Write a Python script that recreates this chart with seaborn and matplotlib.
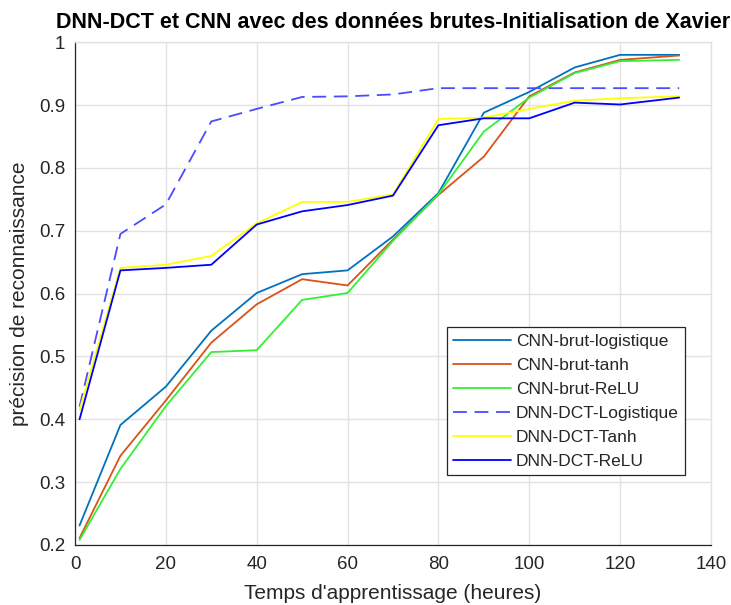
import matplotlib
matplotlib.use("Agg")
import matplotlib.pyplot as plt
import pandas as pd
import seaborn as sns

# Training time (hours) at which each model was evaluated
hours = [1, 10, 20, 30, 40, 50, 60, 70, 80, 90, 100, 110, 120, 133]

# Recognition accuracy per model
cnn_logistique = [0.231, 0.391, 0.452, 0.541, 0.601, 0.631, 0.637, 0.691, 0.760, 0.888, 0.921, 0.960, 0.980, 0.980]
cnn_tanh = [0.211, 0.342, 0.430, 0.522, 0.583, 0.623, 0.613, 0.686, 0.757, 0.818, 0.914, 0.952, 0.972, 0.979]
cnn_relu = [0.208, 0.321, 0.421, 0.507, 0.510, 0.590, 0.601, 0.684, 0.758, 0.858, 0.912, 0.951, 0.970, 0.972]
dnn_logistique = [0.420, 0.695, 0.742, 0.874, 0.894, 0.913, 0.914, 0.917, 0.927, 0.927, 0.927, 0.927, 0.927, 0.927]
dnn_tanh = [0.415, 0.641, 0.646, 0.660, 0.712, 0.746, 0.746, 0.758, 0.878, 0.880, 0.894, 0.907, 0.911, 0.914]
dnn_relu = [0.400, 0.637, 0.641, 0.646, 0.710, 0.731, 0.741, 0.756, 0.868, 0.879, 0.879, 0.904, 0.901, 0.912]

labels = ["CNN-brut-logistique", "CNN-brut-tanh", "CNN-brut-ReLU",
          "DNN-DCT-Logistique", "DNN-DCT-Tanh", "DNN-DCT-ReLU"]
series = [cnn_logistique, cnn_tanh, cnn_relu, dnn_logistique, dnn_tanh, dnn_relu]
colors = ["#0072BD", "#D95319", "#33F033", "#4B4BFF", "#FFFF00", "#0000FF"]

x_ticks = [0, 20, 40, 60, 80, 100, 120, 140]
y_ticks = [0.2, 0.3, 0.4, 0.5, 0.6, 0.7, 0.8, 0.9, 1.0]
y_ticklabels = ["0.2", "0.3", "0.4", "0.5", "0.6", "0.7", "0.8", "0.9", "1"]

df = pd.DataFrame({
    "heures": hours * len(series),
    "precision": [v for s in series for v in s],
    "modele": [lab for lab in labels for _ in hours],
})

sns.set_theme(style="white")
plt.rcParams["font.family"] = ["Liberation Sans", "DejaVu Sans"]
plt.rcParams["lines.scale_dashes"] = False

fig = plt.figure(figsize=(7.31, 6.05), dpi=100)
ax = fig.add_axes([0.1026, 0.0992, 0.870, 0.8309])

lw = 1.3
dash_map = {lab: "" for lab in labels}
dash_map["DNN-DCT-Logistique"] = (10, 5.5)

sns.lineplot(data=df, x="heures", y="precision", hue="modele", style="modele",
             hue_order=labels, style_order=labels,
             palette=dict(zip(labels, colors)), dashes=dash_map,
             estimator=None, sort=False, linewidth=lw, ax=ax, legend=False)

ax.set_xlim(0, 140)
ax.set_ylim(0.2, 1.0)
ax.set_xticks(x_ticks)
ax.set_yticks(y_ticks)
ax.set_yticklabels(y_ticklabels)

ax.grid(True, color="#e2e2e2", linewidth=1.0)
ax.set_axisbelow(True)
for side in ("left", "bottom"):
    ax.spines[side].set_color("#262626")
    ax.spines[side].set_linewidth(0.9)
for side in ("top", "right"):
    ax.spines[side].set_color("#e2e2e2")
    ax.spines[side].set_linewidth(1.0)

ax.tick_params(axis="both", direction="in", length=4, width=0.9,
               color="#262626", labelcolor="#262626", labelsize=13.5,
               top=False, right=False)
ax.tick_params(axis="x", pad=8)
ax.tick_params(axis="y", pad=7)

ax.set_xlabel("Temps d'apprentissage (heures)", fontsize=15, color="#262626", labelpad=8)
ax.set_ylabel("précision de reconnaissance", fontsize=15, color="#262626", labelpad=7)
ax.set_title("DNN-DCT et CNN avec des données brutes-Initialisation de Xavier",
             fontsize=15.5, fontweight="bold", color="#000000", pad=10)

handles = ax.get_lines()[:len(labels)]
leg = ax.legend(handles, labels, loc="upper left", bbox_to_anchor=(0.585, 0.433),
                fontsize=12.5, handlelength=3.3, handletextpad=0.3,
                labelspacing=0.51, borderpad=0.37, borderaxespad=0,
                frameon=True, fancybox=False, framealpha=1, edgecolor="#262626")
leg.get_frame().set_linewidth(0.9)
for t in leg.get_texts():
    t.set_color("#262626")

fig.savefig("out.png", dpi=100)
